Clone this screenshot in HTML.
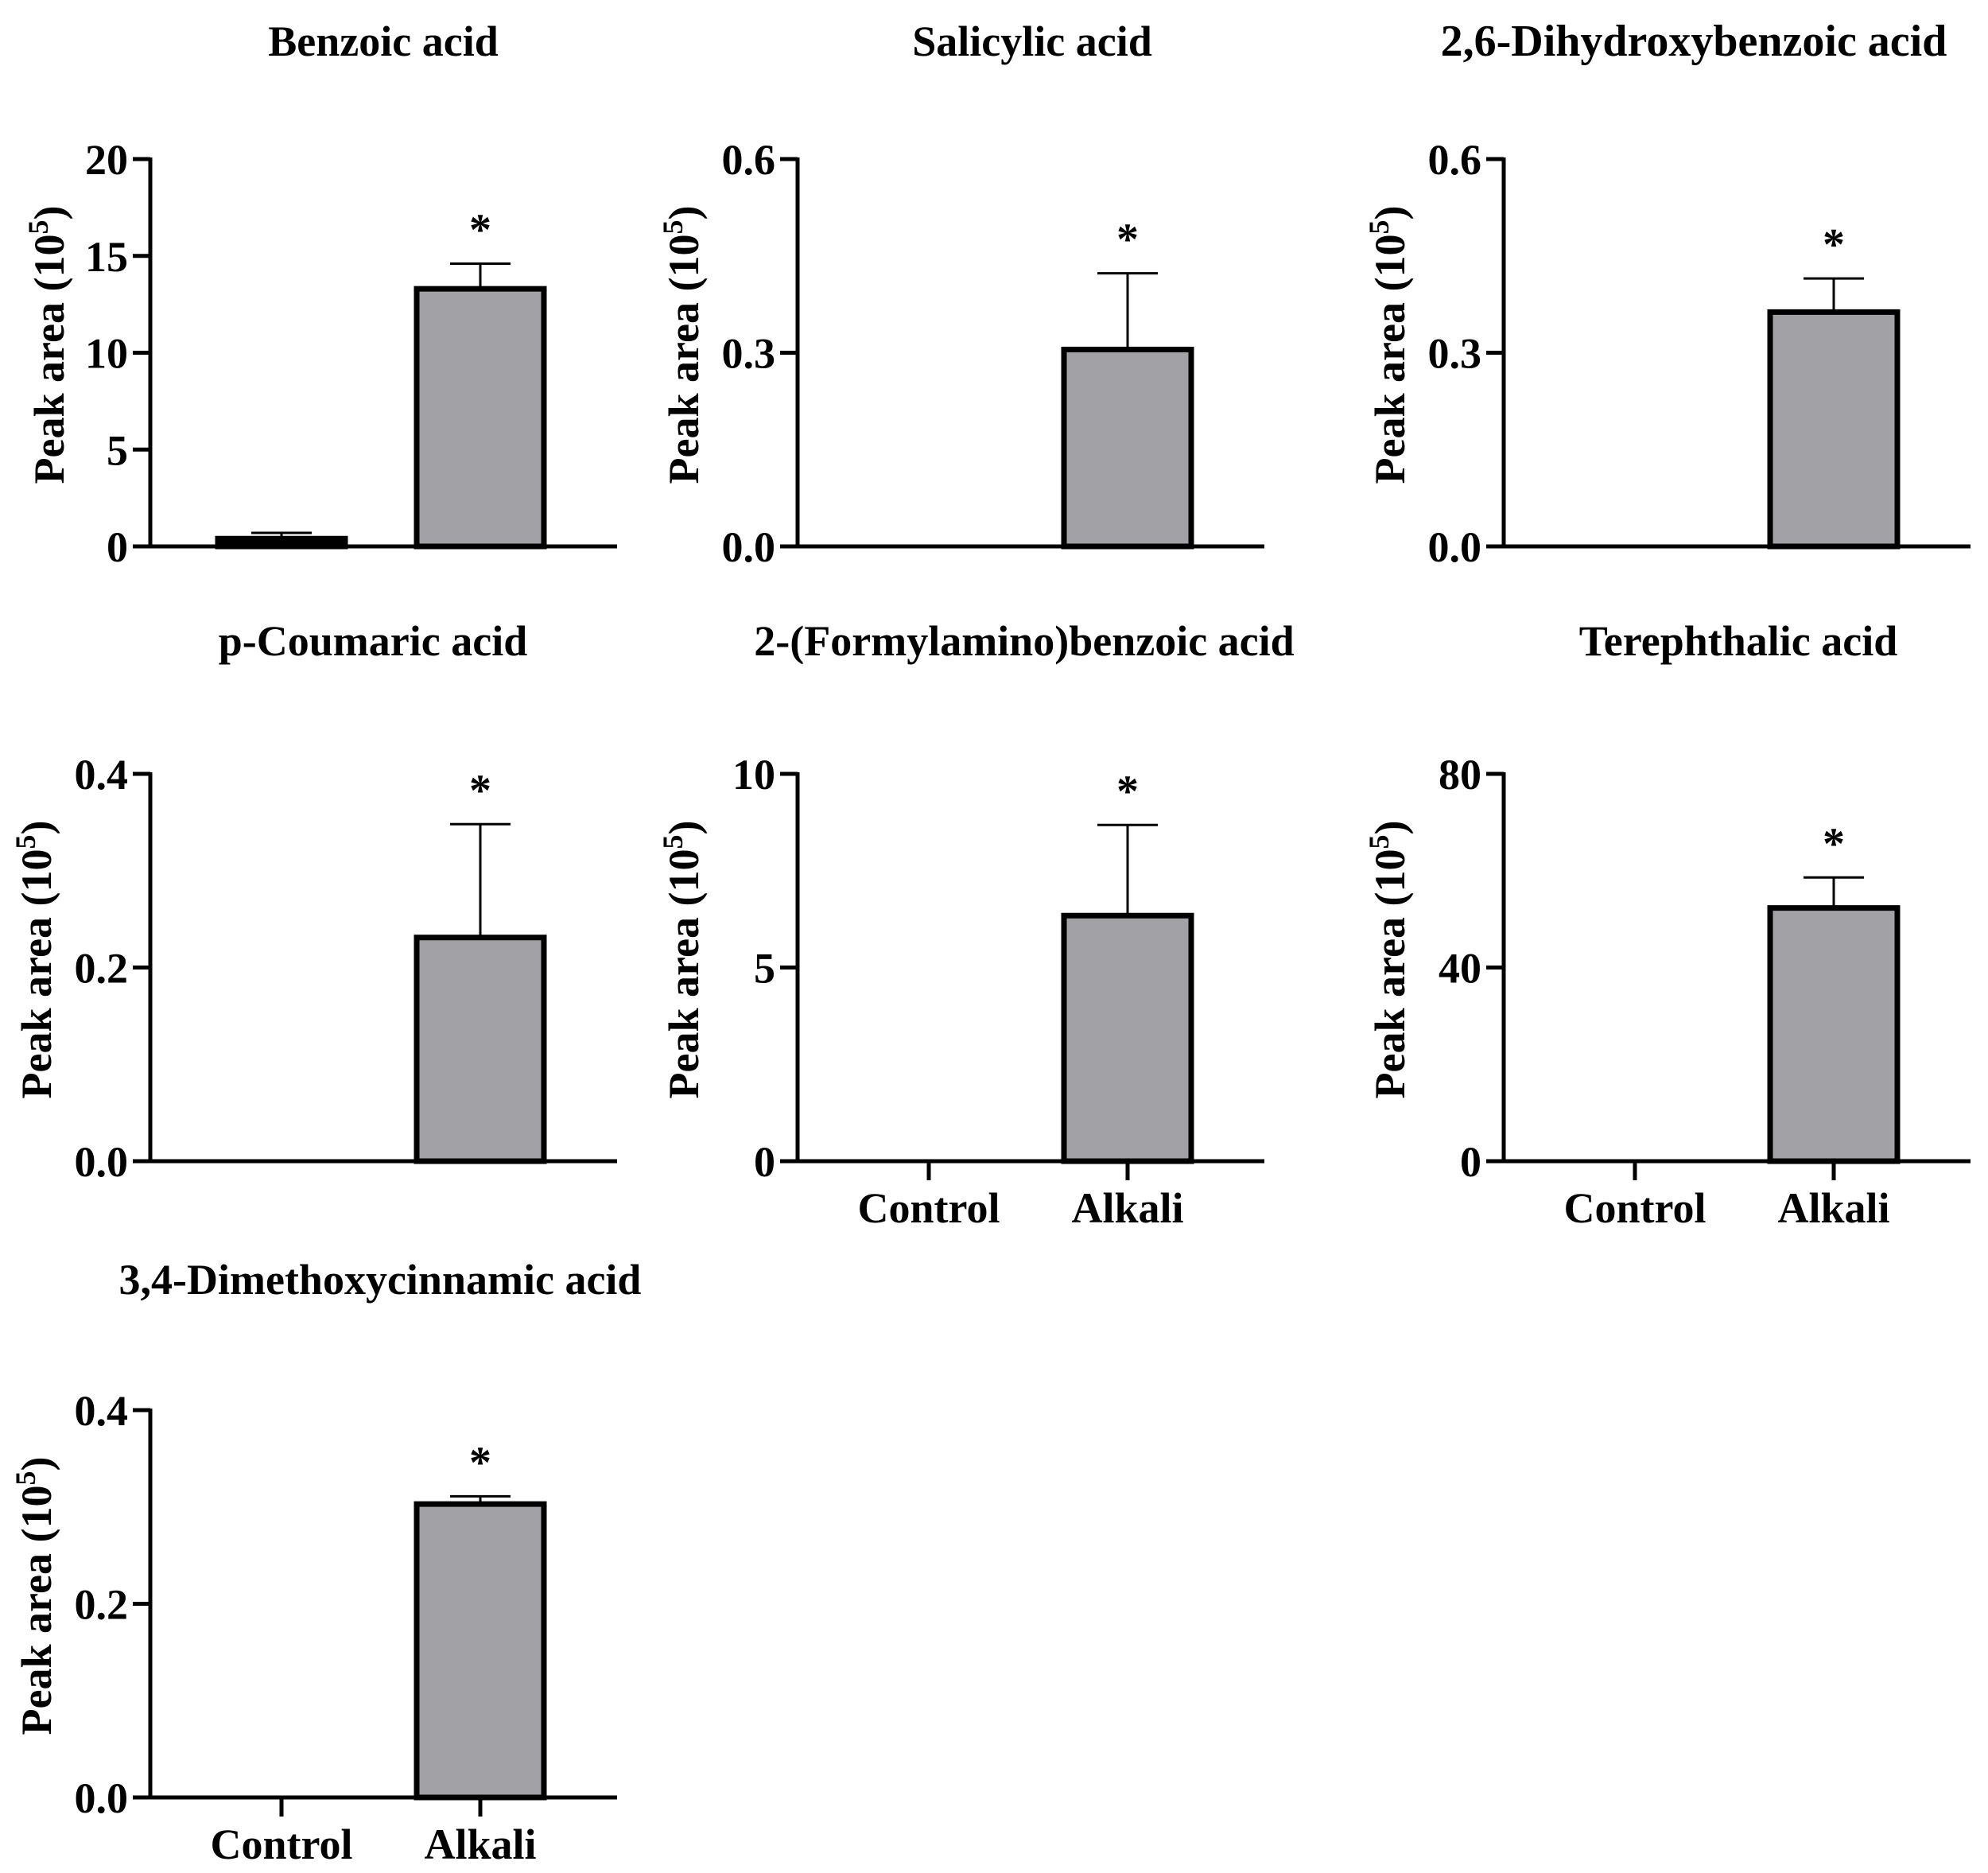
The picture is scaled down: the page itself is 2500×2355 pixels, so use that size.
<!DOCTYPE html>
<html><head><meta charset="utf-8"><style>
html,body{margin:0;padding:0;background:#fff;}
svg{display:block;font-family:"Liberation Serif","Times New Roman",serif;font-weight:bold;}
</style></head><body>
<svg id="fig" width="2500" height="2355" viewBox="0 0 2500 2355" xmlns="http://www.w3.org/2000/svg"></svg>
<script>
// Panel data
const titles = ["Benzoic acid","Salicylic acid","2,6-Dihydroxybenzoic acid","p-Coumaric acid","2-(Formylamino)benzoic acid","Terephthalic acid","3,4-Dimethoxycinnamic acid"];
const categories = ["Control","Alkali"];
const controlValues = [0.4, 0, 0, 0, 0, 0, 0];
const controlErrTop = [0.7, 0, 0, 0, 0, 0, 0];
const alkaliValues = [13.3, 0.305, 0.363, 0.231, 6.34, 52.3, 0.303];
const alkaliErrTop = [14.6, 0.423, 0.415, 0.348, 8.68, 58.6, 0.311];
const yMax = [20, 0.6, 0.6, 0.4, 10, 80, 0.4];
const tickLabels = [["0","5","10","15","20"],["0.0","0.3","0.6"],["0.0","0.3","0.6"],["0.0","0.2","0.4"],["0","5","10"],["0","40","80"],["0.0","0.2","0.4"]];
const showXLabels = [false,false,false,false,true,true,true];
const significant = [true,true,true,true,true,true,true];

// layout
const axisX = [189,1003,1891,189,1003,1891,189];
const zeroY = [687,687,687,1460,1460,1460,2260];
const titleX = [482,1298,2130,469,1288,2186,478];
const titleY = [70,70,70,824,824,824,1627];
const titleFont = [54,54,56,54,54,54,54];
const yLabelOff = [109,125,125,125,125,125,125];
const plotH = 487, plotW = 587;
const NS = "http://www.w3.org/2000/svg";
const svg = document.getElementById('fig');
function mk(tag, attrs, parent){
  const e = document.createElementNS(NS, tag);
  for (const k in attrs) e.setAttribute(k, attrs[k]);
  (parent||svg).appendChild(e);
  return e;
}
for (let p = 0; p < titles.length; p++) {
  const g = mk('g', {});
  
  
  const ax = axisX[p], zy = zeroY[p];
  const yS = v => zy - v / yMax[p] * plotH;
  const xC = i => ax + (i === 0 ? 165 : 415);
  const t = mk('text', {x: titleX[p], y: titleY[p], 'font-size': titleFont[p], 'text-anchor': 'middle'}, g);
  t.textContent = titles[p];
  
  
  const cy = zy - plotH/2 - 10;
  const yl = mk('text', {x: 0, y: 0, 'font-size': 54, 'text-anchor': 'middle', transform: `translate(${ax-yLabelOff[p]},${cy}) rotate(-90)`}, g);
  yl.innerHTML = 'Peak area (10<tspan dy="-20" font-size="36">5</tspan><tspan dy="20">)</tspan>';
  
  
  const vals = [controlValues[p], alkaliValues[p]];
  const errs = [controlErrTop[p], alkaliErrTop[p]];
  for (let i = 0; i < 2; i++) {
    if (vals[i] <= 0) continue;
    const top = yS(vals[i]);
    const r = mk('rect', {x: xC(i) - 80, y: top, width: 160, height: zy - top, fill: i === 0 ? '#000' : '#a2a1a6', stroke: '#000', 'stroke-width': 7}, g);
    
    
    const et = yS(errs[i]);
    const el = mk('path', {d: `M${xC(i)},${top} V${et} M${xC(i)-38},${et} H${xC(i)+38}`, stroke: '#000', 'stroke-width': 3, fill: 'none'}, g);
    
    
    if (i === 1 && significant[p]) {
      const s = mk('text', {x: xC(i), y: et - 24, 'font-size': 56, 'text-anchor': 'middle'}, g);
      s.textContent = '*';
      
      
    }
  }
  const yAxis = mk('line', {x1: ax, y1: zy - plotH - 2, x2: ax, y2: zy + 2, stroke: '#000', 'stroke-width': 5}, g);
  
  
  const xAxis = mk('line', {x1: ax - 22, y1: zy, x2: ax + plotW, y2: zy, stroke: '#000', 'stroke-width': 5}, g);
  
  
  const n = tickLabels[p].length;
  for (let k = 0; k < n; k++) {
    const v = yMax[p] * k / (n - 1);
    const ty = yS(v);
    mk('line', {x1: ax - 22, y1: ty, x2: ax, y2: ty, stroke: '#000', 'stroke-width': 5}, g);
    const tl = mk('text', {x: ax - 28, y: ty + 19, 'font-size': 54, 'text-anchor': 'end'}, g);
    tl.textContent = tickLabels[p][k];
    
    
  }
  if (showXLabels[p]) {
    for (let i = 0; i < 2; i++) {
      mk('line', {x1: xC(i), y1: zy, x2: xC(i), y2: zy + 24, stroke: '#000', 'stroke-width': 5}, g);
      const xl = mk('text', {x: xC(i), y: zy + 77, 'font-size': 54, 'text-anchor': 'middle'}, g);
      xl.textContent = categories[i];
      
      
    }
  }
}
</script>
</body></html>
